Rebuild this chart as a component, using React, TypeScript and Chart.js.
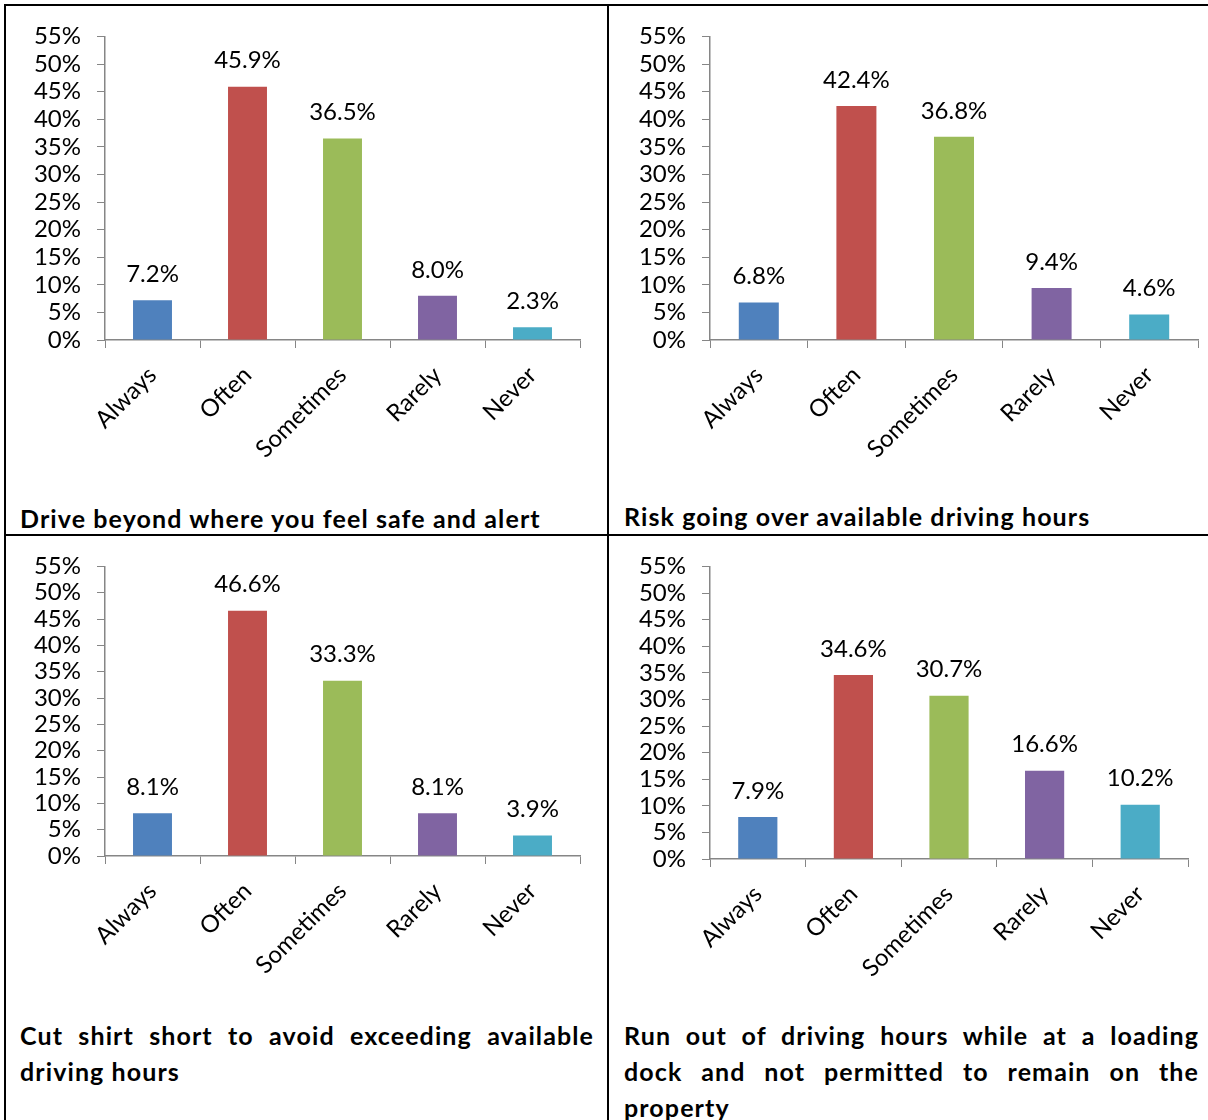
import React, { useEffect, useRef } from "react";
import { Chart, registerables } from "chart.js";

Chart.register(...registerables);

// Response categories shared by all four panels
const categories = ["Always", "Often", "Sometimes", "Rarely", "Never"];

// Percent of respondents per category, one array per question
const driveBeyondSafe = [7.2, 45.9, 36.5, 8.0, 2.3];
const riskOverHours = [6.8, 42.4, 36.8, 9.4, 4.6];
const cutShiftShort = [8.1, 46.6, 33.3, 8.1, 3.9];
const runOutAtDock = [7.9, 34.6, 30.7, 16.6, 10.2];

// Y axis ticks (percent)
const yTicks = [0, 5, 10, 15, 20, 25, 30, 35, 40, 45, 50, 55];

const titles = [
  "Drive beyond where you feel safe and alert",
  "Risk going over available driving hours",
  "Cut shirt short to avoid exceeding available driving hours",
  "Run out of driving hours while at a loading dock and not permitted to remain on the property",
];

const barColors = ["#4F81BD", "#C0504D", "#9BBB59", "#8064A2", "#4BACC6"];
const axisGray = "#868686";
const FONT = "Lato, 'Open Sans', sans-serif";
const TICK_SIZE = 24;

type Box = { x: number; y: number; w: number; h: number };
type Area = { L: number; R: number; T: number; B: number };

// canvas box and plot area, in page pixels
const panels: { values: number[]; box: Box; area: Area }[] = [
  { values: driveBeyondSafe, box: { x: 6, y: 6, w: 601, h: 484 }, area: { L: 105, R: 580, T: 35, B: 340 } },
  { values: riskOverHours, box: { x: 609, y: 6, w: 599, h: 484 }, area: { L: 710, R: 1198, T: 35, B: 340 } },
  { values: cutShiftShort, box: { x: 6, y: 536, w: 601, h: 464 }, area: { L: 105, R: 580, T: 565, B: 856 } },
  { values: runOutAtDock, box: { x: 609, y: 536, w: 599, h: 464 }, area: { L: 710, R: 1188, T: 566, B: 859 } },
];

const valueLabels = {
  id: "valueLabels",
  afterDatasetsDraw(chart: any) {
    const ctx = chart.ctx;
    const meta = chart.getDatasetMeta(0);
    const data = chart.data.datasets[0].data as number[];
    ctx.save();
    ctx.font = `${TICK_SIZE}px ${FONT}`;
    ctx.fillStyle = "#000";
    ctx.textAlign = "center";
    ctx.textBaseline = "middle";
    meta.data.forEach((bar: any, i: number) => {
      ctx.fillText(data[i].toFixed(1) + "%", bar.x, bar.y - 26);
    });
    ctx.restore();
  },
};

function BarPanel({ values, box, area }: { values: number[]; box: Box; area: Area }) {
  const ref = useRef<HTMLCanvasElement>(null);
  useEffect(() => {
    if (!ref.current) return;
    const chart = new Chart(ref.current, {
      type: "bar",
      data: {
        labels: categories,
        datasets: [
          {
            data: values,
            backgroundColor: barColors,
            borderWidth: 0,
            categoryPercentage: 1,
            barPercentage: 0.41,
          },
        ],
      },
      options: {
        responsive: false,
        animation: false,
        devicePixelRatio: 1,
        layout: {
          padding: { left: 0, right: box.x + box.w - area.R, top: area.T - box.y, bottom: 0 },
        },
        plugins: { legend: { display: false }, tooltip: { enabled: false } },
        scales: {
          x: {
            afterFit: (s: any) => {
              s.height = box.y + box.h - area.B;
            },
            grid: {
              drawOnChartArea: false,
              color: axisGray,
              tickLength: 8,
              offset: true,
            },
            border: { color: axisGray, width: 1.5 },
            ticks: {
              autoSkip: false,
              minRotation: 45,
              maxRotation: 45,
              padding: 13,
              color: "#000",
              font: { family: FONT, size: TICK_SIZE },
            },
          },
          y: {
            min: 0,
            max: 55,
            afterFit: (s: any) => {
              s.width = area.L - box.x;
            },
            afterBuildTicks: (s: any) => {
              s.ticks = yTicks.map((v) => ({ value: v }));
            },
            grid: { drawOnChartArea: false, color: axisGray, tickLength: 8 },
            border: { color: axisGray, width: 1.5 },
            ticks: {
              autoSkip: false,
              padding: 16,
              color: "#000",
              font: { family: FONT, size: TICK_SIZE },
              callback: (v: any) => `${v}%`,
            },
          },
        },
      },
      plugins: [valueLabels],
    });
    return () => chart.destroy();
  }, [values, box, area]);
  return (
    <canvas
      ref={ref}
      width={box.w}
      height={box.h}
      style={{ position: "absolute", left: box.x, top: box.y, width: box.w, height: box.h }}
    />
  );
}

const titleStyle: React.CSSProperties = {
  position: "absolute",
  fontFamily: FONT,
  fontWeight: 700,
  fontSize: 25,
  letterSpacing: "1.1px",
  lineHeight: "36px",
  color: "#000",
  textAlign: "justify",
  margin: 0,
};

export default function App() {
  return (
    <div
      style={{
        position: "absolute",
        left: 0,
        top: 0,
        width: 1208,
        height: 1120,
        background: "#fff",
        overflow: "hidden",
      }}
    >
      {panels.map((p, i) => (
        <BarPanel key={i} values={p.values} box={p.box} area={p.area} />
      ))}
      <div style={{ ...titleStyle, left: 20, top: 500, width: 585, whiteSpace: "nowrap" }}>{titles[0]}</div>
      <div style={{ ...titleStyle, left: 624, top: 498, width: 584, whiteSpace: "nowrap" }}>{titles[1]}</div>
      <div style={{ ...titleStyle, left: 20, top: 1017, width: 574 }}>{titles[2]}</div>
      <div style={{ ...titleStyle, left: 624, top: 1017, width: 575 }}>{titles[3]}</div>
      {/* table rules */}
      <div style={{ position: "absolute", left: 4, top: 4, width: 1204, height: 2, background: "#000" }} />
      <div style={{ position: "absolute", left: 4, top: 4, width: 2, height: 1116, background: "#000" }} />
      <div style={{ position: "absolute", left: 607, top: 4, width: 2, height: 1116, background: "#000" }} />
      <div style={{ position: "absolute", left: 4, top: 534, width: 1204, height: 2, background: "#000" }} />
    </div>
  );
}
